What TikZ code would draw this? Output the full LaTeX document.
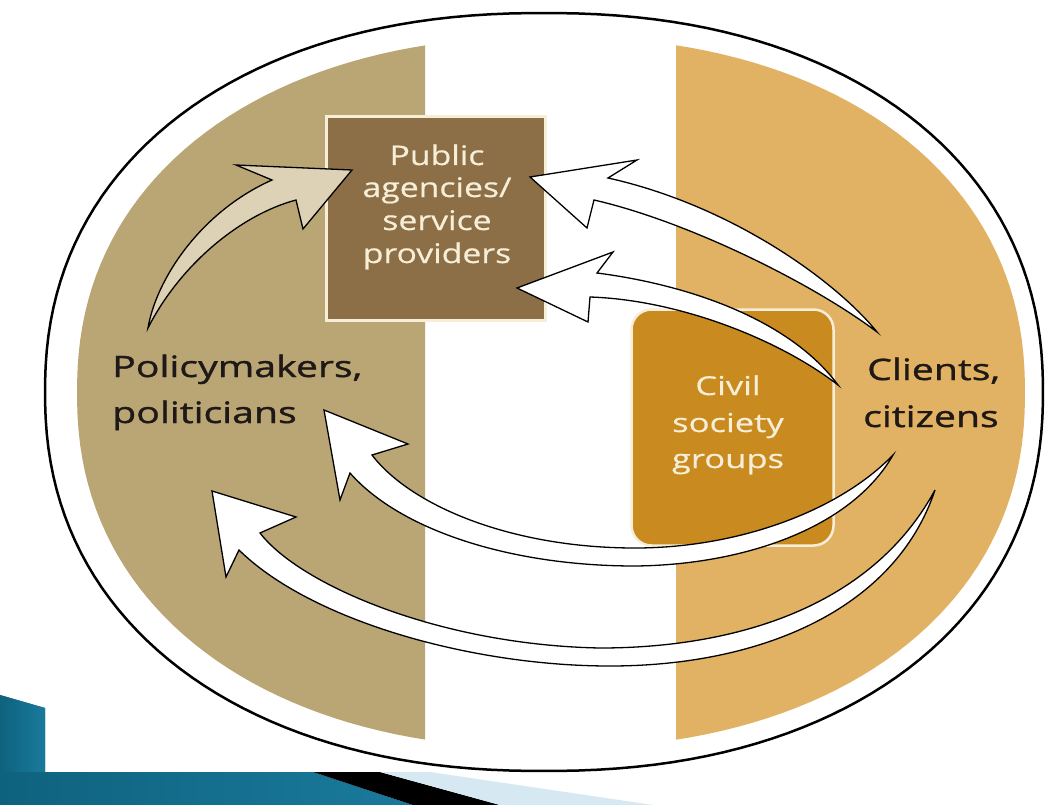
\documentclass[tikz,border=0pt]{standalone}
\usepackage{fontspec}
\newfontfamily\labfont[FakeStretch=1.33,FakeBold=1.2]{Open Sans}
\newfontfamily\pubfont[FakeStretch=1.25,FakeBold=0.6]{Open Sans}
\newfontfamily\civfont[FakeStretch=1.33,FakeBold=0.6]{Open Sans}
\definecolor{tanc}{RGB}{186,165,117}
\definecolor{orc}{RGB}{225,177,100}
\definecolor{pubc}{RGB}{140,111,70}
\definecolor{civc}{RGB}{201,139,32}
\definecolor{creamc}{RGB}{247,238,215}
\definecolor{beigec}{RGB}{221,210,182}
\definecolor{labc}{RGB}{30,25,22}
\definecolor{bluedark}{RGB}{14,98,126}
\definecolor{bluelight}{RGB}{82,180,216}
\definecolor{bluemid}{RGB}{26,122,156}
\definecolor{paleblue}{RGB}{214,232,241}
\tikzset{
  bigarrow/.style={draw=black, line width=1.3pt, fill=white},
  lab/.style={inner sep=0pt, anchor=base west, text=labc, font=\labfont\fontsize{29.5}{35}\selectfont},
  pubtxt/.style={inner sep=0pt, anchor=base, text=creamc, font=\pubfont\fontsize{27}{30}\selectfont},
  civtxt/.style={inner sep=0pt, anchor=base, text=creamc, font=\civfont\fontsize{26}{30}\selectfont},
  pubbox/.style={draw=creamc, line width=2.5pt, fill=pubc, minimum width=219pt, minimum height=204pt, inner sep=0pt},
  civbox/.style={draw=creamc, line width=2.5pt, fill=civc, rounded corners=20pt, minimum width=202pt, minimum height=236pt, inner sep=0pt}
}
\begin{document}
\begin{tikzpicture}[x=1pt,y=-1pt]
\useasboundingbox (0,0) rectangle (1046,805);
\fill[white] (0,0) rectangle (1046,805);
% slide decoration
\shade[left color=bluedark, middle color=bluelight, right color=bluemid] (0,695) -- (45,708) -- (45,772) -- (313,772) -- (413,805) -- (0,805) -- cycle;
\shade[left color=bluedark, right color=bluemid] (0,695) -- (45,708) -- (45,772) -- (0,772) -- cycle;
\fill[black] (313,772) -- (380,772) -- (500,805) -- (413,805) -- cycle;
\fill[paleblue] (380,772) -- (430,772) -- (653,805) -- (500,805) -- cycle;
% coloured halves of the disc
\begin{scope}
  \clip (0,0) rectangle (425,805);
  \fill[tanc] plot[domain=1:359,samples=180] ({551+474*cos(\x)*abs(cos(\x))^(-0.0909)},{392.5+356*sin(\x)*abs(sin(\x))^(-0.0909)}) -- cycle;
\end{scope}
\begin{scope}
  \clip (676,0) rectangle (1046,805);
  \fill[orc] plot[domain=1:359,samples=180] ({551+474*cos(\x)*abs(cos(\x))^(-0.0909)},{392.5+356*sin(\x)*abs(sin(\x))^(-0.0909)}) -- cycle;
\end{scope}
% outline
\draw[line width=2.5pt] plot[domain=1:359,samples=180] ({544+499*cos(\x)*abs(cos(\x))^(-0.0909)},{392+379*sin(\x)*abs(sin(\x))^(-0.0909)}) -- cycle;
% boxes
\node[pubbox] (pub) at (436,218.5) {};
\node[civbox] (civ) at (732.5,427.5) {};
% texts
\node[pubtxt] (pub1) at (437,165) {Public};
\node[pubtxt] (pub2) at (437,197) {agencies/};
\node[pubtxt] (pub3) at (437,230) {service};
\node[pubtxt] (pub4) at (437,263) {providers};
\node[civtxt] (civ1) at (728,395) {Civil};
\node[civtxt] (civ2) at (728,432) {society};
\node[civtxt] (civ3) at (728,468) {groups};
\node[lab] (pol1) at (112,377) {Policymakers,};
\node[lab] (pol2) at (112,423) {politicians};
\node[lab] (cli1) at (867,380) {Clients,};
\node[lab] (cli2) at (863,427) {citizens};
% arrow 1: policymakers -> public agencies
\coordinate (t1) at (148,328);
\coordinate (n1a) at (272,180);
\coordinate (b1a) at (236,165);
\coordinate (p1) at (352,170);
\coordinate (b1b) at (303,229);
\coordinate (n1b) at (296,200);
\draw[bigarrow, fill=beigec] (t1) .. controls (156,280) and (200,212) .. (n1a) -- (b1a) -- (p1) -- (b1b) -- (n1b) .. controls (240,215) and (180,265) .. (t1) -- cycle;
% arrow 2: clients -> public agencies (upper)
\coordinate (t2) at (877,332);
\coordinate (n2a) at (608,178);
\coordinate (b2a) at (637,160);
\coordinate (p2) at (530,177);
\coordinate (b2b) at (587,228);
\coordinate (n2b) at (594,200);
\draw[bigarrow] (t2) .. controls (835,280) and (730,205) .. (n2a) -- (b2a) -- (p2) -- (b2b) -- (n2b) .. controls (690,222) and (815,285) .. (t2) -- cycle;
% arrow 3: clients -> public agencies (lower)
\coordinate (t3) at (838,385);
\coordinate (n3a) at (597,273);
\coordinate (b3a) at (613,252);
\coordinate (p3) at (517,288);
\coordinate (b3b) at (588,322);
\coordinate (n3b) at (590,297);
\draw[bigarrow] (t3) .. controls (790,320) and (690,285) .. (n3a) -- (b3a) -- (p3) -- (b3b) -- (n3b) .. controls (680,300) and (780,340) .. (t3) -- cycle;
% arrow 4: clients -> politicians (upper)
\coordinate (t4) at (893,455);
\coordinate (m4a) at (635,548);
\coordinate (n4a) at (372,455);
\coordinate (b4a) at (408,444);
\coordinate (p4) at (324,410);
\coordinate (b4b) at (340,500);
\coordinate (n4b) at (350,473);
\coordinate (m4b) at (635,566);
\draw[bigarrow] (t4) .. controls (840,510) and (740,548) .. (m4a) .. controls (510,548) and (410,505) .. (n4a) -- (b4a) -- (p4) -- (b4b) -- (n4b) .. controls (400,530) and (510,566) .. (m4b) .. controls (740,565) and (850,530) .. (t4) -- cycle;
% arrow 5: clients -> politicians (lower)
\coordinate (t5) at (935,490);
\coordinate (m5a) at (600,648);
\coordinate (n5a) at (260,533);
\coordinate (b5a) at (296,517);
\coordinate (p5) at (212,491);
\coordinate (b5b) at (226,577);
\coordinate (n5b) at (239,550);
\coordinate (m5b) at (610,666);
\draw[bigarrow] (t5) .. controls (870,610) and (730,648) .. (m5a) .. controls (440,645) and (300,585) .. (n5a) -- (b5a) -- (p5) -- (b5b) -- (n5b) .. controls (310,620) and (470,666) .. (m5b) .. controls (760,666) and (895,610) .. (t5) -- cycle;
\end{tikzpicture}
\end{document}
